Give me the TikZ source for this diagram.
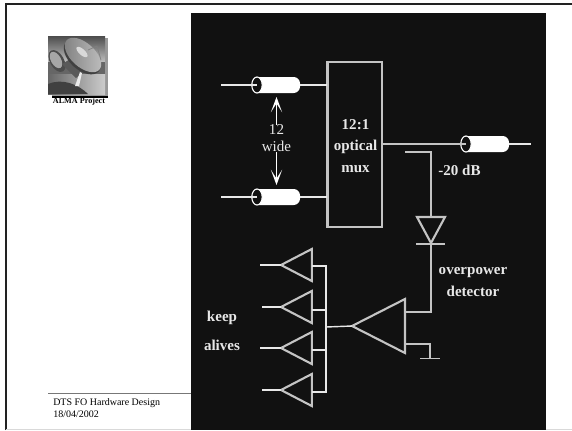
\documentclass[tikz,border=0pt]{standalone}
\usepackage{fontspec}
\setmainfont{Liberation Serif}
\usetikzlibrary{shapes.geometric,arrows.meta,positioning,calc}
\definecolor{almaink}{HTML}{111111}
\definecolor{almaline}{HTML}{C4C4C4}
\definecolor{almawire}{HTML}{E8E8E8}
\definecolor{almarule}{HTML}{777777}
\definecolor{almaframe}{HTML}{222222}
\tikzset{
  muxbox/.style={rectangle,draw=almaline,line width=1.8pt,inner sep=0pt,outer sep=0pt,
                 minimum width=1.365cm,minimum height=4.125cm},
  cable/.style={rectangle,rounded corners=1.6mm,fill=white,inner sep=0pt,outer sep=0pt,
                minimum width=1.2cm,minimum height=0.4cm},
  cableend/.style={ellipse,draw=white,line width=0.8pt,fill=almaink,inner sep=0pt,outer sep=0pt,
                   minimum width=0.26cm,minimum height=0.4cm},
  ampsmall/.style={isosceles triangle,isosceles triangle stretches,shape border rotate=180,
                   draw=almaline,line width=1.5pt,inner sep=0pt,outer sep=0pt,anchor=apex,
                   minimum height=0.77cm,minimum width=0.8cm},
  ampbig/.style={ampsmall,minimum height=1.325cm,minimum width=1.35cm},
  diode/.style={isosceles triangle,isosceles triangle stretches,shape border rotate=-90,
                draw=almaline,line width=1.5pt,inner sep=0pt,outer sep=0pt,anchor=apex,
                minimum height=0.65cm,minimum width=0.7cm},
  wire/.style={line width=1pt,draw=almaline},
  whitewire/.style={line width=1pt,draw=almawire},
  bar/.style={line width=1.6pt,draw=almaline},
  width12/.style={-{Stealth[length=3.8mm,width=2.8mm,inset=2.2mm]},line width=1.1pt,draw=white,
                  shorten >=1mm},
  lbl/.style={text=almawire,inner sep=0pt,align=center,font=\fontsize{10.7}{12}\selectfont},
  bold/.style={lbl,font=\fontsize{10.7}{15}\selectfont\bfseries},
}
\begin{document}
\begin{tikzpicture}[x=0.025cm,y=-0.025cm]
  \useasboundingbox (0,0) rectangle (572,430);
  \fill[white] (0,0) rectangle (572,430);
  \draw[almaframe,line width=1.4pt] (6,430) -- (6,4) -- (572,4);
  \draw[black!15,line width=0.6pt] (6,429.5) -- (572,429.5);
  \fill[almaink] (191,13) rectangle (546,430);
  \draw[almarule,line width=0.8pt] (48,393.7) -- (191,393.7);

  \fill[black!40] (52,38) rectangle (108,96);
  \draw[black,line width=0.8pt] (52,97) -- (108,97);
  \shade[top color=black!70,bottom color=black!25] (48,36) rectangle (105,62);
  \fill[black!60] (48,62) rectangle (105,74);
  \shade[left color=black!60,right color=black!20] (48,74) rectangle (105,94);
  \fill[black!75] (48,84) .. controls (62,78) and (78,84) .. (88,94) -- (48,94) -- cycle;
  \fill[black!70,rotate around={-60:(57,61)}] (57,61) ellipse (12 and 7);
  \fill[black!35,rotate around={-60:(56,60)}] (56,60) ellipse (9 and 5);
  \fill[black!65] (62,64) -- (72,58) -- (84,72) -- (76,78) -- cycle;
  \fill[black!8] (80,72) -- (82,73) -- (79,86) -- (75,86) -- cycle;
  \fill[black!75,rotate around={-42:(83,56)}] (83,57) ellipse (22 and 13);
  \shade[left color=black!50,right color=black!25,rotate around={-42:(83,55)}] (83,55) ellipse (22 and 12);
  \fill[black!15,rotate around={-42:(82,52)}] (82,52) ellipse (7 and 3);
  \draw[black!50,line width=0.5pt] (88,50) -- (97,46) -- (101,60);

  \node[font=\fontsize{5.8}{7}\selectfont\bfseries,inner sep=0pt] (alma) at (79,102) {ALMA Project};
  \node[font=\fontsize{7.1}{8.5}\selectfont,align=left,inner sep=0pt,anchor=north west] (foot) at (53,398) {DTS FO Hardware Design\\18/04/2002};

  \node[muxbox] (mux) at (354.75,144.5) {};
  \node[bold,font=\fontsize{10.7}{15.3}\selectfont\bfseries] (muxl) at (355.5,146) {12:1\\optical\\mux};
  \node[cable] (ca) at (276,85) {};
  \node[cable] (cb) at (276,197) {};
  \node[cable] (cc) at (485,144) {};
  \node[cableend] (cae) at (257,85) {};
  \node[cableend] (cbe) at (257,197) {};
  \node[cableend] (cce) at (466,144) {};
  \coordinate (ia) at (221,85);
  \coordinate (ib) at (221,197);
  \coordinate (oc) at (531,144);
  \draw[whitewire] (ia) -- (cae.center);
  \draw[whitewire] (ib) -- (cbe.center);
  \draw[whitewire] (ca.east) -- (ca.east -| mux.west);
  \draw[whitewire] (cb.east) -- (cb.east -| mux.west);
  \draw[wire] (mux.east |- cce.center) -- (cce.center);
  \draw[whitewire] (cc.east) -- (oc);

  \node[lbl] (wd) at (276.5,138.5) {12\\wide};
  \draw[width12] (wd.north) -- (wd.north |- ca.south);
  \draw[width12] (wd.south) -- (wd.south |- cb.north);

  \coordinate (tap) at (405,152);
  \coordinate (diotop) at (431,218);
  \node[diode] (dio) at (431,243) {};
  \coordinate (barl) at (416,244);
  \coordinate (barr) at (445,244);
  \draw[bar] (barl) -- (barr);
  \draw[wire] (tap) -| (diotop);
  \node[bold] (att) at (459.5,170.5) {-20 dB};
  \node[bold] (det) at (473,282) {overpower\\detector};

  \node[ampbig] (big) at (352,326) {};
  \draw[wire] (dio.apex) |- ($(big.east)+(0,-14)$);
  \coordinate (gnd) at (430,358.5);
  \draw[wire] ($(big.east)+(0,18)$) -| (gnd);
  \draw[wire,line width=1.2pt] (420,358.5) -- (440,358.5);

  \node[ampsmall] (ka) at (281,265) {};
  \node[ampsmall] (kb) at (281,307) {};
  \node[ampsmall] (kc) at (281,348) {};
  \node[ampsmall] (kd) at (281,390) {};
  \coordinate (bus) at (326,327);
  \draw[whitewire] (260,265) -- (ka.apex);
  \draw[whitewire] (262,307) -- (kb.apex);
  \draw[whitewire] (260,348) -- (kc.apex);
  \draw[whitewire] (262,390) -- (kd.apex);
  \draw[whitewire] ($(ka.east)+(0,1)$) -| (bus);
  \draw[whitewire] ($(kd.east)+(0,2)$) -| (bus);
  \draw[whitewire] ($(kb.east)+(0,3)$) -- ($(kb.east)+(15,3)$);
  \draw[whitewire] ($(kc.east)+(0,2)$) -- ($(kc.east)+(15,2)$);
  \draw[whitewire] (bus) -- (big.apex);

  \node[bold] (keep) at (222,318) {keep};
  \node[bold] (aliv) at (222,345) {alives};
\end{tikzpicture}
\end{document}
